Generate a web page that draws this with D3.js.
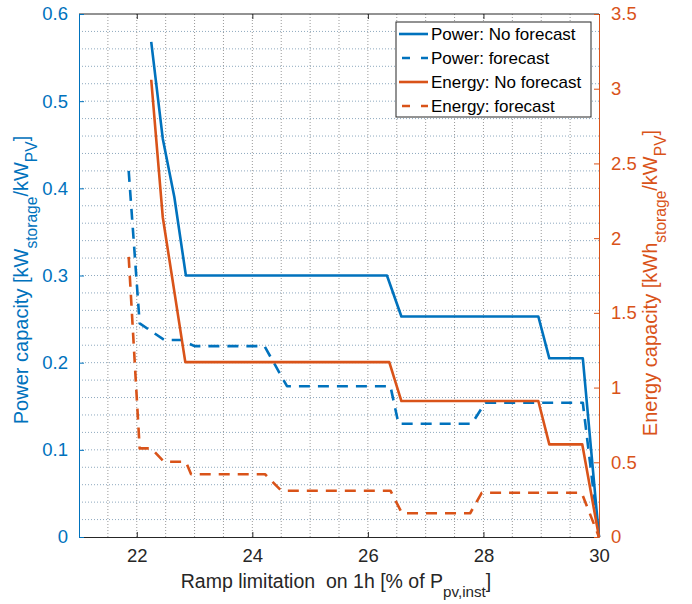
<!DOCTYPE html>
<html>
<head>
<meta charset="utf-8">
<script src="https://cdn.jsdelivr.net/npm/d3@7"></script>
<style>
  body { margin: 0; background: #fff; }
  svg { font-family: "Liberation Sans", Arial, Helvetica, sans-serif; }
</style>
</head>
<body>
<svg id="chart" width="692" height="604"></svg>
<script>
// data
const powerNoFcX = [22.25, 22.45, 22.65, 22.85, 26.33, 26.58, 28.95, 29.14, 29.72, 30];
const powerNoFcY = [0.568, 0.457, 0.39, 0.30, 0.30, 0.253, 0.253, 0.205, 0.205, 0];

const powerFcX = [21.86, 22.05, 22.48, 22.77, 23.0, 24.21, 24.6, 26.39, 26.53, 27.8, 28.03, 29.72, 29.8, 30];
const powerFcY = [0.42, 0.245, 0.226, 0.226, 0.219, 0.219, 0.173, 0.173, 0.130, 0.130, 0.154, 0.154, 0.11, 0];

const energyNoFcX = [22.25, 22.45, 22.84, 26.37, 26.58, 28.95, 29.14, 29.71, 30];
const energyNoFcY = [3.06, 2.14, 1.17, 1.17, 0.91, 0.91, 0.62, 0.62, 0];

const energyFcX = [21.86, 22.05, 22.25, 22.47, 22.85, 22.94, 24.22, 24.5, 26.39, 26.59, 27.77, 27.97, 29.7, 30];
const energyFcY = [1.875, 0.593, 0.593, 0.504, 0.504, 0.42, 0.42, 0.31, 0.31, 0.159, 0.159, 0.296, 0.296, 0];

const xTicks = [22, 24, 26, 28, 30];
const leftTicks = [0, 0.1, 0.2, 0.3, 0.4, 0.5, 0.6];
const rightTicks = [0, 0.5, 1, 1.5, 2, 2.5, 3, 3.5];
const legendLabels = ['Power: No forecast', 'Power: forecast', 'Energy: No forecast', 'Energy: forecast'];

const blue = '#0072BD';
const orange = '#D95319';
const dark = '#262626';

const pLeft = 79, pRight = 599, pTop = 14, pBottom = 537;
const tickFont = 18.5;

const svg = d3.select('#chart');

const x = d3.scaleLinear().domain([21, 30]).range([pLeft, pRight]);
const yL = d3.scaleLinear().domain([0, 0.6]).range([pBottom, pTop]);
const yR = d3.scaleLinear().domain([0, 3.5]).range([pBottom, pTop]);

// grid
const grid = svg.append('g');
grid.selectAll('line.v')
    .data(d3.range(21.5, 30, 0.5))
    .join('line')
    .attr('x1', d => x(d)).attr('x2', d => x(d))
    .attr('y1', pTop).attr('y2', pBottom)
    .attr('stroke', '#999')
    .attr('stroke-width', 1)
    .attr('stroke-dasharray', '1,2');
grid.selectAll('line.h')
    .data(d3.range(0.02, 0.6, 0.02))
    .join('line')
    .attr('x1', pLeft).attr('x2', pRight)
    .attr('y1', d => yL(d)).attr('y2', d => yL(d))
    .attr('stroke', '#8ea9bf')
    .attr('stroke-width', 1)
    .attr('stroke-dasharray', '1,2');

// frame
svg.append('line').attr('x1', pLeft).attr('x2', pRight).attr('y1', pTop).attr('y2', pTop)
    .attr('stroke', dark).attr('stroke-width', 1);

// axes
const xAxis = svg.append('g')
    .attr('transform', `translate(0,${pBottom})`)
    .call(d3.axisBottom(x).tickValues(xTicks).tickSizeInner(-5).tickSizeOuter(0).tickPadding(12));
xAxis.select('.domain').attr('stroke', dark);
xAxis.selectAll('.tick line').attr('stroke', dark);
xAxis.selectAll('text').attr('fill', dark).attr('font-size', tickFont);

const xTop = svg.append('g')
    .attr('transform', `translate(0,${pTop})`)
    .call(d3.axisTop(x).tickValues(xTicks).tickSizeInner(-5).tickSizeOuter(0).tickFormat(''));
xTop.select('.domain').remove();
xTop.selectAll('.tick line').attr('stroke', dark);

const lAxis = svg.append('g')
    .attr('transform', `translate(${pLeft},0)`)
    .call(d3.axisLeft(yL).tickValues(leftTicks).tickSizeInner(-5).tickSizeOuter(0).tickPadding(11).tickFormat(d3.format('')));
lAxis.select('.domain').attr('stroke', blue);
lAxis.selectAll('.tick line').attr('stroke', blue);
lAxis.selectAll('text').attr('fill', blue).attr('font-size', tickFont);

const rAxis = svg.append('g')
    .attr('transform', `translate(${pRight},0)`)
    .call(d3.axisRight(yR).tickValues(rightTicks).tickSizeInner(-5).tickSizeOuter(0).tickPadding(12).tickFormat(d3.format('')));
rAxis.select('.domain').attr('stroke', orange);
rAxis.selectAll('.tick line').attr('stroke', orange);
rAxis.selectAll('text').attr('fill', orange).attr('font-size', tickFont);

// series
const series = [
    { xs: powerNoFcX, ys: powerNoFcY, y: yL, color: blue, dash: null },
    { xs: powerFcX, ys: powerFcY, y: yL, color: blue, dash: '11,8' },
    { xs: energyNoFcX, ys: energyNoFcY, y: yR, color: orange, dash: null },
    { xs: energyFcX, ys: energyFcY, y: yR, color: orange, dash: '11,8' }
];

series.forEach(s => {
    const pts = s.xs.map((v, i) => [v, s.ys[i]]);
    const line = d3.line().x(d => x(d[0])).y(d => s.y(d[1]));
    svg.append('path')
        .datum(pts)
        .attr('d', line)
        .attr('fill', 'none')
        .attr('stroke', s.color)
        .attr('stroke-width', 2.6)
        .attr('stroke-linejoin', 'round')
        .attr('stroke-dasharray', s.dash);
});

// legend
const lg = svg.append('g').attr('transform', 'translate(396,22)');
lg.append('rect')
    .attr('width', 195).attr('height', 95)
    .attr('fill', '#fff').attr('stroke', dark).attr('stroke-width', 1);
legendLabels.forEach((lab, i) => {
    const s = series[i];
    const yy = 12 + i * 24;
    lg.append('line')
        .attr('x1', 3).attr('x2', 32).attr('y1', yy).attr('y2', yy)
        .attr('stroke', s.color).attr('stroke-width', 2.6)
        .attr('stroke-dasharray', s.dash ? '8,11' : null)
        .attr('stroke-dashoffset', s.dash ? -3 : null);
    lg.append('text')
        .attr('x', 35).attr('y', yy + 6)
        .attr('font-size', 17).attr('fill', '#000')
        .text(lab);
});

// axis labels
function labelWithSubs(g, parts, size) {
    const t = g.append('text').attr('font-size', size).attr('text-anchor', 'middle')
        .style('white-space', 'pre');
    parts.forEach(p => {
        const ts = t.append('tspan').text(p.t);
        if (p.sub) ts.attr('font-size', size * 0.78).attr('baseline-shift', 'sub');
    });
    return t;
}

labelWithSubs(svg.append('g').attr('transform', `translate(336,588)`),
    [{ t: 'Ramp limitation  on 1h [% of P' }, { t: 'pv,inst', sub: true }, { t: ']' }], 19.5)
    .attr('fill', dark);

labelWithSubs(svg.append('g').attr('transform', `translate(28,280) rotate(-90)`),
    [{ t: 'Power capacity [kW' }, { t: 'storage', sub: true }, { t: '/kW' }, { t: 'PV', sub: true }, { t: ']' }], 20)
    .attr('fill', blue);

labelWithSubs(svg.append('g').attr('transform', `translate(657,283) rotate(-90)`),
    [{ t: 'Energy capacity [kWh' }, { t: 'storage', sub: true }, { t: '/kW' }, { t: 'PV', sub: true }, { t: ']' }], 20)
    .attr('fill', orange);
</script>
</body>
</html>
